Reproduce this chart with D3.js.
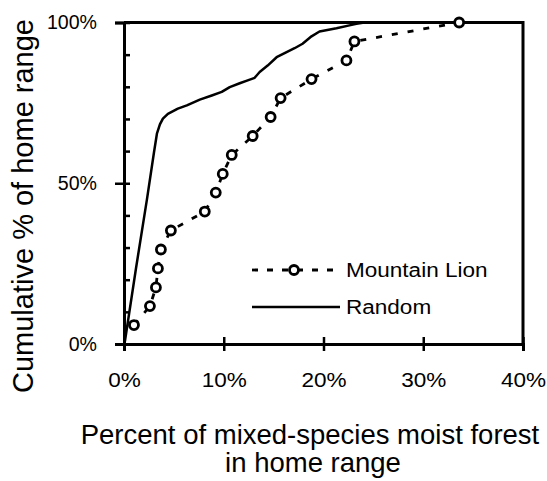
<!DOCTYPE html>
<html>
<head>
<meta charset="utf-8">
<script src="https://cdn.jsdelivr.net/npm/d3@7"></script>
<style>
  body { margin: 0; background: #fff; }
  svg { display: block; font-family: "Liberation Sans", Arial, sans-serif; }
</style>
</head>
<body>
<div id="chart"></div>
<script>
// values (percent)
let x_ticks = [0, 10, 20, 30, 40];
let y_major = [0, 50, 100];
let y_minor = [0, 10, 20, 30, 40, 50, 60, 70, 80, 90, 100];

let lion_x = [1.0, 2.6, 3.2, 3.4, 3.7, 4.7, 8.1, 9.2, 9.9, 10.8, 12.9, 14.7, 15.7, 18.8, 22.3, 23.1, 33.6];
let lion_y = [5.9, 11.8, 17.6, 23.5, 29.4, 35.3, 41.2, 47.1, 52.9, 58.8, 64.7, 70.6, 76.5, 82.4, 88.2, 94.1, 100];

let random_x = [0, 0.1, 1.2, 2.3, 3.0, 3.3, 3.6, 3.9, 4.4, 5.4, 6.3, 7.6, 8.8, 9.8, 10.6, 11.6, 12.4, 13.1, 13.6, 14.4, 15.3, 16.3, 17.1, 17.9, 18.8, 19.6, 21.3, 22.6, 23.3, 24.1];
let random_y = [0, 1.0, 23.5, 45.0, 59.5, 65.4, 68.3, 70.1, 71.6, 73.2, 74.2, 76.0, 77.3, 78.4, 79.9, 81.1, 82.0, 82.8, 84.6, 86.6, 89.2, 90.8, 92.0, 93.4, 95.7, 97.2, 98.2, 99.1, 99.6, 100];

let legend_names = ["Mountain Lion", "Random"];

let chart_width = 547, chart_height = 481;
let plot_left = 124, plot_right = 523, plot_top = 22.5, plot_bottom = 344;
let stretch = 1.15;   // x tick and legend text look horizontally widened
let tick_font = 19.6;

let svg = d3.select("#chart").append("svg")
    .attr("width", chart_width)
    .attr("height", chart_height);

let xScale = d3.scaleLinear().domain([0, 40]).range([plot_left, plot_right]);
let yScale = d3.scaleLinear().domain([0, 100]).range([plot_bottom, plot_top]);

// frame (top and right)
svg.append("path")
    .attr("d", "M" + plot_left + "," + plot_top + "H" + plot_right + "V" + plot_bottom)
    .attr("fill", "none")
    .attr("stroke", "black")
    .attr("stroke-width", 3);

// y axis: inward minor ticks, crossing major ticks
let y_in = svg.append("g").attr("transform", "translate(" + plot_left + ",0)")
    .call(d3.axisLeft(yScale).tickValues(y_minor).tickSize(-6).tickFormat(""));
let y_out = svg.append("g").attr("transform", "translate(" + plot_left + ",0)")
    .call(d3.axisLeft(yScale).tickValues(y_major).tickSize(9).tickPadding(18)
        .tickFormat(function(d) { return d + "%"; }));

// x axis: ticks cross the line
let x_in = svg.append("g").attr("transform", "translate(0," + plot_bottom + ")")
    .call(d3.axisBottom(xScale).tickValues(x_ticks).tickSize(-7).tickFormat(""));
let x_out = svg.append("g").attr("transform", "translate(0," + plot_bottom + ")")
    .call(d3.axisBottom(xScale).tickValues(x_ticks).tickSize(7).tickPadding(22)
        .tickFormat(function(d) { return d + "%"; }));

[y_in, y_out, x_in, x_out].forEach(function(ax) {
    ax.attr("font-family", "Liberation Sans, Arial, sans-serif").attr("font-size", tick_font);
    ax.select(".domain").attr("stroke-width", 3).attr("stroke", "black");
    ax.selectAll(".tick line").attr("stroke-width", 2.5).attr("stroke", "black");
});
y_in.select(".domain").remove();
x_in.select(".domain").remove();

y_out.selectAll("text")
    .attr("fill", "black")
    .attr("x", -27);
x_out.selectAll("text")
    .attr("fill", "black")
    .attr("transform", "scale(" + stretch + ",1)");

let random_pts = random_x.map(function(v, i) { return [v, random_y[i]]; });
let lion_pts = lion_x.map(function(v, i) { return [v, lion_y[i]]; });

let chart_line = d3.line()
    .x(function(d) { return xScale(d[0]); })
    .y(function(d) { return yScale(d[1]); });

svg.append("path")
    .attr("d", chart_line(random_pts))
    .attr("fill", "none")
    .attr("stroke", "black")
    .attr("stroke-width", 2.5)
    .attr("stroke-linejoin", "round");

svg.append("path")
    .attr("d", chart_line(lion_pts))
    .attr("fill", "none")
    .attr("stroke", "black")
    .attr("stroke-width", 2.8)
    .attr("stroke-dasharray", "6,10");

svg.selectAll("circle.lion")
    .data(lion_pts)
    .enter()
    .append("circle")
    .attr("class", "lion")
    .attr("cx", function(d) { return xScale(d[0]); })
    .attr("cy", function(d) { return yScale(d[1]); })
    .attr("r", 4.5)
    .attr("fill", "white")
    .attr("stroke", "black")
    .attr("stroke-width", 2.8);

// legend
let leg_x1 = 252, leg_x2 = 340;
let leg_rows = [270, 307];

svg.append("line")
    .attr("x1", leg_x1).attr("x2", leg_x2)
    .attr("y1", leg_rows[0]).attr("y2", leg_rows[0])
    .attr("stroke", "black").attr("stroke-width", 2.8)
    .attr("stroke-dasharray", "6,9");
svg.append("circle")
    .attr("cx", 294).attr("cy", leg_rows[0]).attr("r", 4.5)
    .attr("fill", "white").attr("stroke", "black").attr("stroke-width", 2.8);
svg.append("line")
    .attr("x1", leg_x1).attr("x2", leg_x2)
    .attr("y1", leg_rows[1]).attr("y2", leg_rows[1])
    .attr("stroke", "black").attr("stroke-width", 2.5);

legend_names.forEach(function(name, i) {
    svg.append("text")
        .attr("transform", "translate(346," + (leg_rows[i] + 7) + ") scale(" + stretch + ",1)")
        .attr("font-size", tick_font)
        .attr("fill", "black")
        .text(name);
});

// axis titles
svg.append("text")
    .attr("text-anchor", "middle")
    .attr("x", 310)
    .attr("y", 443.5)
    .attr("font-size", 27.5)
    .text("Percent of mixed-species moist forest");
svg.append("text")
    .attr("text-anchor", "middle")
    .attr("x", 313)
    .attr("y", 472)
    .attr("font-size", 27.5)
    .text("in home range");

svg.append("text")
    .attr("text-anchor", "middle")
    .attr("transform", "translate(33,206) rotate(-90)")
    .attr("font-size", 29)
    .text("Cumulative % of home range");
</script>
</body>
</html>
